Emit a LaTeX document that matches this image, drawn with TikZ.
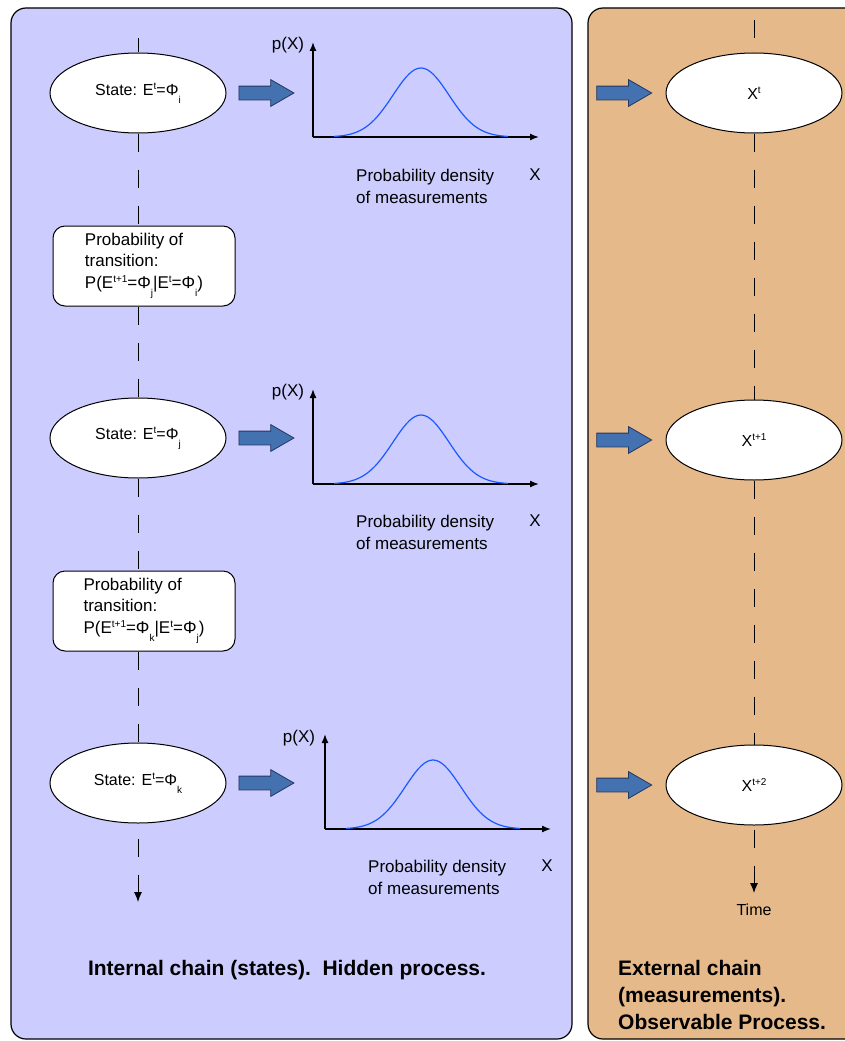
\documentclass[tikz,border=0pt]{standalone}
\usepackage{fontspec}
\setmainfont{Liberation Sans}
\usepackage{xcolor}
\usepackage{tikz}
\usetikzlibrary{arrows.meta,shapes.geometric,shapes.arrows,positioning}
\definecolor{panelblue}{RGB}{204,204,255}
\definecolor{panelsand}{RGB}{230,185,138}
\definecolor{arrowblue}{RGB}{68,114,176}
\definecolor{arrowline}{RGB}{35,55,95}
\definecolor{curveblue}{RGB}{25,90,255}
\newcommand{\supt}[1]{\raisebox{0.36em}{\fontsize{10}{10}\selectfont #1}}
\newcommand{\subt}[1]{\raisebox{-0.5em}{\fontsize{10}{10}\selectfont #1}}

\begin{document}
\begin{tikzpicture}[x=1pt,y=-1pt,
    panel/.style={rounded corners=15pt,draw=black,line width=1.2pt},
    state/.style={ellipse,draw=black,fill=white,line width=1pt,minimum width=176pt,
                  minimum height=80pt,font=\fontsize{16}{19}\selectfont},
    trans/.style={rectangle,rounded corners=12pt,draw=black,fill=white,line width=1pt,
                  align=left,minimum width=182pt,minimum height=80pt,font=\fontsize{17}{21.5}\selectfont},
    bigar/.style={single arrow,draw=arrowline,fill=arrowblue,line width=0.8pt,minimum height=55pt,
                  inner sep=6.5pt,single arrow head extend=6.5pt,single arrow tip angle=60},
    chain/.style={dash pattern=on 18pt off 18pt,line width=1pt},
    axis/.style={line width=1.4pt,-{Latex[length=9pt,width=7pt]}},
    bell/.style={curveblue,line width=1.2pt},
    lbl/.style={font=\fontsize{17}{21.5}\selectfont,inner sep=0pt},
    bold/.style={font=\fontsize{21}{27}\selectfont\bfseries,inner sep=0pt,align=left}
  ]
  \useasboundingbox (0,0) rectangle (845,1041);
  % panels
  \draw[panel,fill=panelblue] (11,8) rectangle (572,1039);
  \draw[panel,fill=panelsand] (588,8) rectangle (875,1039);

  % hidden chain
  \node[state] (s1) at (138,93) {State: E\supt{t}=Φ\subt{i}};
  \node[trans] (t1) at (144,266) {Probability of\\transition:\\P(E\supt{t+1}=Φ\subt{j}|E\supt{t}=Φ\subt{i})};
  \node[state] (s2) at (138,438) {State: E\supt{t}=Φ\subt{j}};
  \node[trans] (t2) at (144,611) {Probability of\\transition:\\P(E\supt{t+1}=Φ\subt{k}|E\supt{t}=Φ\subt{j})};
  \node[state] (s3) at (138,783) {State: E\supt{t}=Φ\subt{k}};
  \coordinate (ct) at (138,38);
  \coordinate (cb) at (138,902);

  % observed chain
  \node[state] (x1) at (754,93) {X\supt{t}};
  \node[state] (x2) at (754,440) {X\supt{t+1}};
  \node[state] (x3) at (754,785) {X\supt{t+2}};
  \coordinate (rt) at (754,20);
  \coordinate (rb) at (754,893);
  \node[font=\fontsize{16}{19}\selectfont,below=7pt of rb] (time) {Time};

  % block arrows
  \node[bigar,right=12pt of s1] (a1) {};
  \node[bigar,right=12pt of s2] (a2) {};
  \node[bigar,right=12pt of s3] (a3) {};
  \node[bigar,left=13pt of x1] (b1) {};
  \node[bigar,left=13pt of x2] (b2) {};
  \node[bigar,left=13pt of x3] (b3) {};

  \draw[chain] (ct) -- (s1);
  \draw[chain] (s1) -- (s1 |- t1.north);
  \draw[chain] (s1 |- t1.south) -- (s2);
  \draw[chain] (s2) -- (s2 |- t2.north);
  \draw[chain] (s2 |- t2.south) -- (s3);
  \draw[chain,dash phase=21pt,-{Latex[length=10pt,width=8pt]}] (s3) -- (cb);
  \draw[chain] (rt) -- (x1);
  \draw[chain] (x1) -- (x2);
  \draw[chain] (x2) -- (x3);
  \draw[chain,dash phase=32pt,-{Latex[length=10pt,width=8pt]}] (x3) -- (rb);

  % densities
  \coordinate (o1) at (313,137);
  \coordinate (o2) at (313,484);
  \coordinate (o3) at (325,829);
  \draw[axis] (o1) -- ++(0,-95);
  \draw[axis] (o1) -- ++(226,0);
  \draw[bell] plot[domain=-87:87,samples=61] ({421+\x},{137-69*exp(-0.5*(\x/28)^2)});
  \draw[axis] (o2) -- ++(0,-95);
  \draw[axis] (o2) -- ++(226,0);
  \draw[bell] plot[domain=-87:87,samples=61] ({421+\x},{484-69*exp(-0.5*(\x/28)^2)});
  \draw[axis] (o3) -- ++(0,-95);
  \draw[axis] (o3) -- ++(226,0);
  \draw[bell] plot[domain=-87:87,samples=61] ({433+\x},{829-69*exp(-0.5*(\x/28)^2)});

  \node[lbl] (p1) at (288,45) {p(X)};
  \node[lbl] (p2) at (288,392) {p(X)};
  \node[lbl] (p3) at (299,738) {p(X)};
  \node[lbl,align=left,anchor=north west] (d1) at (356,169) {Probability density\\of measurements};
  \node[lbl,align=left,anchor=north west] (d2) at (356,515) {Probability density\\of measurements};
  \node[lbl,align=left,anchor=north west] (d3) at (368,860) {Probability density\\of measurements};
  \node[lbl] (q1) at (535,175) {X};
  \node[lbl] (q2) at (535,521) {X};
  \node[lbl] (q3) at (547,866) {X};

  % captions
  \node[bold] (inner) at (287,970) {Internal chain (states).~~Hidden process.};
  \node[bold,anchor=north west] (outer) at (618,960) {External chain\\(measurements).\\Observable Process.};
\end{tikzpicture}
\end{document}
